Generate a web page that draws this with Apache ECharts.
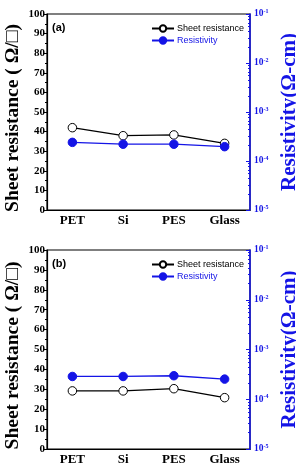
<!DOCTYPE html>
<html><head><meta charset="utf-8">
<script src="https://cdn.jsdelivr.net/npm/echarts@6/dist/echarts.min.js"></script>
<style>html,body{margin:0;padding:0;background:#fff}#c{width:296px;height:476px}</style>
</head><body><div id="c"></div>
<script>
const categories = ['PET', 'Si', 'PES', 'Glass'];
const sheetA = [42, 37.9, 38.3, 34];
const resistA = [2.4e-4, 2.2e-4, 2.2e-4, 1.96e-4];
const sheetB = [29.2, 29.2, 30.3, 25.8];
const resistB = [2.87e-4, 2.87e-4, 2.97e-4, 2.54e-4];
const panelLabels = ['(a)', '(b)'];
const leftName = 'Sheet resistance ( \u03A9/\u25A1)';
const rightName = 'Resistivity(\u03A9-cm)';

const BLUE = '#1414e6';
const grids = [
  {left: 47, width: 203, top: 14, height: 196},
  {left: 47, width: 203, top: 250, height: 199}
];
const serif = 'Liberation Serif';

function xAx(i){
  return {type:'category', gridIndex:i, data:categories, boundaryGap:true,
    axisLine:{lineStyle:{color:'#000', width:1.2}},
    axisTick:{alignWithLabel:true, inside:true, length:4, lineStyle:{color:'#000'}},
    axisLabel:{color:'#000', fontFamily:serif, fontWeight:'bold', fontSize:13, margin:4, interval:0}};
}
function yL(i){
  return {type:'value', gridIndex:i, min:0, max:100, interval:10, position:'left',
    axisLine:{show:true, lineStyle:{color:'#000', width:1.2}},
    axisTick:{show:true, inside:false, length:3, lineStyle:{color:'#000'}},
    minorTick:{show:true, splitNumber:2, length:2, lineStyle:{color:'#000'}},
    splitLine:{show:false},
    axisLabel:{color:'#000', fontFamily:serif, fontWeight:'bold', fontSize:11, margin:2}};
}
function yR(i){
  return {type:'log', gridIndex:i, min:1e-5, max:1e-1, logBase:10, position:'right',
    name:rightName, nameLocation:'middle', nameGap:16, nameRotate:90,
    nameTextStyle:{color:BLUE, fontFamily:serif, fontWeight:'bold', fontSize:21},
    axisLine:{show:true, lineStyle:{color:BLUE, width:1.5}},
    axisTick:{show:true, inside:true, length:4, lineStyle:{color:BLUE}},
    minorTick:{show:true, splitNumber:8, length:2, lineStyle:{color:BLUE}},
    splitLine:{show:false},
    axisLabel:{color:BLUE, margin:4,
      formatter:function(v){ const e = Math.round(Math.log10(v)); return '{b|10}{s|' + e + '}'; },
      rich:{b:{fontFamily:serif, fontWeight:'bold', fontSize:9.5, color:BLUE},
            s:{fontFamily:serif, fontWeight:'bold', fontSize:6, color:BLUE, verticalAlign:'top', padding:[0,0,5,0]}}}};
}
function series(i, sheet, res){
  return [
    {name:'Sheet resistance', type:'line', xAxisIndex:i, yAxisIndex:2*i, data:sheet,
     symbol:'circle', symbolSize:8.5, lineStyle:{color:'#000', width:1.3},
     itemStyle:{color:'#fff', borderColor:'#000', borderWidth:1}},
    {name:'Resistivity', type:'line', xAxisIndex:i, yAxisIndex:2*i+1, data:res,
     symbol:'circle', symbolSize:8.5, lineStyle:{color:BLUE, width:1.3},
     itemStyle:{color:BLUE, borderColor:BLUE, borderWidth:1}}
  ];
}
function legend(i){
  return {orient:'vertical', left:146, top: grids[i].top + 5, itemGap:3, itemWidth:22, itemHeight:8,
    textStyle:{fontFamily:'Liberation Sans', fontSize:9, padding:[0,0,0,-2]},
    data:[{name:'Sheet resistance', textStyle:{color:'#000'}},{name:'Resistivity', textStyle:{color:BLUE}}]};
}
const chart = echarts.init(document.getElementById('c'), null, {renderer:'canvas'});
chart.setOption({
  animation:false,
  title: panelLabels.map((t,i)=>({text:t, left:47, top:grids[i].top+3,
    textStyle:{fontFamily:'Liberation Sans', fontWeight:'bold', fontSize:11, color:'#000'}})),
  grid: grids.map(g=>Object.assign({show:true, borderColor:'#000', borderWidth:1.2, containLabel:false, outerBoundsMode:'none'}, g)),
  graphic: grids.map(g=>({type:'text', x:13, y:g.top + g.height/2 + 6, rotation:Math.PI/2,
    style:{text:leftName, fill:'#000', font:'bold 19.5px "Liberation Serif"', align:'center', verticalAlign:'middle'}})),
  legend: [legend(0), legend(1)],
  xAxis: [xAx(0), xAx(1)],
  yAxis: [yL(0), yR(0), yL(1), yR(1)],
  series: [...series(0, sheetA, resistA), ...series(1, sheetB, resistB)]
});
</script></body></html>
